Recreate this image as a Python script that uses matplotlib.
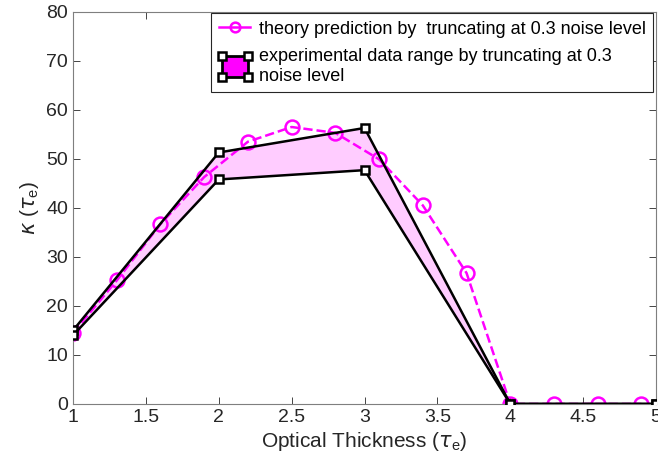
import numpy as np
import matplotlib
matplotlib.use('Agg')
import matplotlib.pyplot as plt
from matplotlib.legend_handler import HandlerPatch
from matplotlib.patches import Rectangle, Patch
from matplotlib.lines import Line2D

# theory curve (truncating at 0.3 noise level)
theory_x = [1.0, 1.3, 1.6, 1.9, 2.2, 2.5, 2.8, 3.1, 3.4, 3.7, 4.0, 4.3, 4.6, 4.9]
theory_y = [14.5, 25.2, 36.7, 46.3, 53.5, 56.5, 55.3, 49.9, 40.5, 26.7, 0, 0, 0, 0]

# experimental range
exp_x = [1, 2, 3, 4, 5]
exp_hi = [15.0, 51.3, 56.3, 0, 0]
exp_lo = [14.0, 45.8, 47.7, 0, 0]

plt.rcParams['font.family'] = ['Liberation Sans', 'DejaVu Sans']
plt.rcParams['mathtext.fontset'] = 'custom'
plt.rcParams['mathtext.it'] = 'DejaVu Sans:italic'
plt.rcParams['mathtext.rm'] = 'Liberation Sans'

grey = '#262626'


class RangeHandler(HandlerPatch):
    # box with square markers at the corners, like the matlab legend
    def create_artists(self, legend, orig_handle, xdescent, ydescent,
                       width, height, fontsize, trans):
        x0, y0 = -xdescent + 2, -ydescent - 3
        w, h = width - 4, height + 6
        r = Rectangle((x0, y0), w, h, facecolor='magenta', edgecolor='k',
                      lw=2, transform=trans)
        m = Line2D([x0, x0 + w, x0 + w, x0], [y0, y0, y0 + h, y0 + h],
                   ls='none', marker='s', ms=6, mfc='white', mec='k', mew=1.8,
                   transform=trans)
        return [r, m]


fig = plt.figure(figsize=(6.58, 4.73), dpi=100)
ax = fig.add_axes([0.111, 0.146, 0.886, 0.829])

ax.fill_between(exp_x, exp_lo, exp_hi, color='#ffccff', lw=0, zorder=1)
ax.plot(theory_x, theory_y, '--o', color='magenta', lw=1.8, ms=10,
        mfc='none', mew=1.8, zorder=2)
for yy in (exp_hi, exp_lo):
    ax.plot(exp_x, yy, '-s', color='k', lw=1.8, ms=6, mfc='white',
            mec='k', mew=1.8, zorder=3)

h1 = Line2D([], [], ls='-', marker='o', color='magenta', lw=1.8, ms=7,
            mfc='none', mew=1.8)
h2 = Patch(facecolor='magenta', edgecolor='k')
leg = ax.legend([h1, h2],
                ['theory prediction by  truncating at 0.3 noise level',
                 'experimental data range by truncating at 0.3\nnoise level'],
                handler_map={Patch: RangeHandler()},
                loc='upper right', bbox_to_anchor=(0.995, 0.997),
                fontsize=13, fancybox=False, framealpha=1,
                edgecolor=grey, handlelength=1.75, handletextpad=0.45,
                borderpad=0.42, labelspacing=0.58, borderaxespad=0)
leg.get_frame().set_linewidth(0.8)

ax.set_xlim(1, 5)
ax.set_ylim(0, 80)
ax.set_xticks([1, 1.5, 2, 2.5, 3, 3.5, 4, 4.5, 5])
ax.set_xticklabels(['1', '1.5', '2', '2.5', '3', '3.5', '4', '4.5', '5'])
ax.set_yticks(range(0, 81, 10))
ax.tick_params(direction='in', top=True, right=True, labelsize=14,
               colors=grey, length=5, width=0.6)
for s in ax.spines.values():
    s.set_color('#7f7f7f')
    s.set_linewidth(0.8)
ax.set_xlabel(r'Optical Thickness ($\tau_\mathrm{e}$)', fontsize=15,
              color=grey, labelpad=3)
ax.set_ylabel(r'$\kappa$ ($\tau_\mathrm{e}$)', fontsize=15, color=grey,
              labelpad=4)

fig.savefig('out.png', dpi=100)
